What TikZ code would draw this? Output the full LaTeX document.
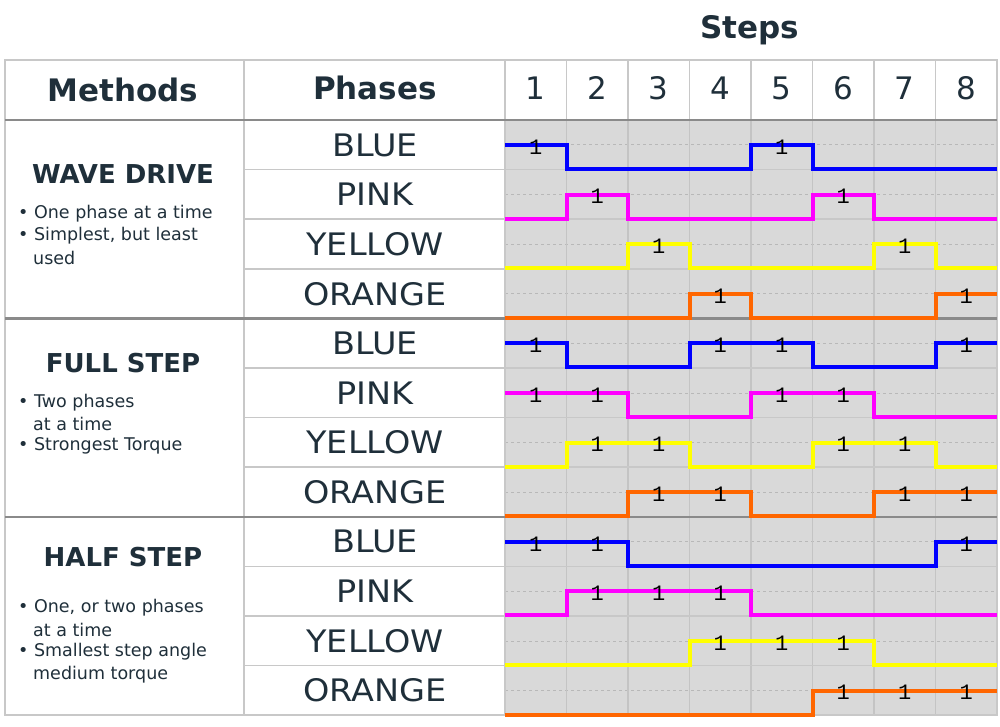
\documentclass[tikz,border=0pt]{standalone}
\usepackage{fontspec}
\setmainfont{DejaVu Sans}
\newfontfamily\markfont{Liberation Mono}
\definecolor{ink}{HTML}{1F2F3A}
\definecolor{gridbg}{HTML}{D9D9D9}
\definecolor{gridln}{HTML}{C4C4C4}
\definecolor{rule}{HTML}{C8C8C8}
\definecolor{secrule}{HTML}{8A8A8A}
\definecolor{dashln}{HTML}{B8B8B8}
\definecolor{wblue}{HTML}{0000FF}
\definecolor{wpink}{HTML}{FF00FF}
\definecolor{wyellow}{HTML}{FFFF00}
\definecolor{worange}{HTML}{FF6600}
\tikzset{
  headtxt/.style={font=\bfseries\fontsize{31}{32}\selectfont, text=ink},
  steptxt/.style={font=\fontsize{31}{32}\selectfont, text=ink},
  phasetxt/.style={font=\fontsize{31}{32}\selectfont, text=ink, xscale=1.08},
  methodtxt/.style={font=\bfseries\fontsize{26}{28}\selectfont, text=ink},
  notetxt/.style={font=\fontsize{17.5}{22}\selectfont, text=ink, anchor=west, inner sep=0pt},
  wave/.style={line width=4pt, line join=miter},
  marktxt/.style={font=\markfont\fontsize{22}{22}\selectfont, inner sep=0pt},
}
% one phase row: top, colour, first bit, bits of steps 1..8
\newcommand{\waverow}[4]{%
  \draw[wave,#2] (505,{#1+25+24*(1-#3)})
    \foreach \b [count=\i] in {#4} {
      -- ({505+61.5*(\i-1)},{#1+25+24*(1-\b)}) -- ({505+61.5*\i},{#1+25+24*(1-\b)})
    };
  \foreach \b [count=\i] in {#4} {
    \ifnum\b=1 \node[marktxt] at ({505+61.5*(\i-0.5)},{#1+27}) {1}; \fi
  }
}
\begin{document}
\begin{tikzpicture}[x=1pt,y=-1pt]
\useasboundingbox (0,0) rectangle (1000,727);

%step area
\fill[gridbg] (505,120) rectangle (997,715);
\foreach \r in {0,...,11}
  \draw[dashln,dashed,line width=1pt] (505,{120+49.6*\r+25}) -- (997,{120+49.6*\r+25});
\foreach \i in {1,...,7}
  \draw[gridln,line width=1.5pt] ({505+61.5*\i},120) -- ({505+61.5*\i},715);
\foreach \i in {1,...,7}
  \draw[rule,line width=1.5pt] ({505+61.5*\i},60) -- ({505+61.5*\i},120);

%table rules
\foreach \r in {1,2,3,5,6,7,9,10,11}
  \draw[rule,line width=1.5pt] (244,{120+49.6*\r}) -- (997,{120+49.6*\r});
\draw[rule,line width=1.5pt] (5,60) rectangle (997,715);
\draw[rule,line width=1.5pt] (244,60) -- (244,715);
\draw[rule,line width=1.5pt] (505,60) -- (505,715);
\foreach \y in {120,318.4,516.8}
  \draw[secrule,line width=2.5pt] (5,\y) -- (997,\y);

%header
\node[headtxt] (steps) at (750,30) {Steps};
\node[headtxt] (methods) at (123,90) {Methods};
\node[headtxt] (phases) at (375,88) {Phases};
\foreach \i in {1,...,8}
  \node[steptxt] (s\i) at ({505+61.5*(\i-0.5)},88) {\i};

%phase names
\foreach \n [count=\k from 0] in {BLUE,PINK,YELLOW,ORANGE,BLUE,PINK,YELLOW,ORANGE,BLUE,PINK,YELLOW,ORANGE}
  \node[phasetxt] (ph\k) at (375,{120+49.6*\k+25}) {\n};

%methods
\node[methodtxt] (wave) at (123,174) {WAVE DRIVE};
\node[notetxt] (w1) at (18,214) {• One phase at a time};
\node[notetxt] (w2) at (18,236) {• Simplest, but least};
\node[notetxt] (w3) at (33,258) {used};
\node[methodtxt] (full) at (123,363) {FULL STEP};
\node[notetxt] (f1) at (18,403) {• Two phases};
\node[notetxt] (f2) at (33,424) {at a time};
\node[notetxt] (f3) at (18,446) {• Strongest Torque};
\node[methodtxt] (half) at (123,557) {HALF STEP};
\node[notetxt] (h1) at (18,608) {• One, or two phases};
\node[notetxt] (h2) at (33,630) {at a time};
\node[notetxt] (h3) at (18,652) {• Smallest step angle};
\node[notetxt] (h4) at (33,675) {medium torque};

%waves
\waverow{120}{wblue}{1}{1,0,0,0,1,0,0,0}
\waverow{169.6}{wpink}{0}{0,1,0,0,0,1,0,0}
\waverow{219.2}{wyellow}{0}{0,0,1,0,0,0,1,0}
\waverow{268.8}{worange}{0}{0,0,0,1,0,0,0,1}
\waverow{318.4}{wblue}{1}{1,0,0,1,1,0,0,1}
\waverow{368}{wpink}{1}{1,1,0,0,1,1,0,0}
\waverow{417.6}{wyellow}{0}{0,1,1,0,0,1,1,0}
\waverow{467.2}{worange}{0}{0,0,1,1,0,0,1,1}
\waverow{516.8}{wblue}{1}{1,1,0,0,0,0,0,1}
\waverow{566.4}{wpink}{0}{0,1,1,1,0,0,0,0}
\waverow{616}{wyellow}{0}{0,0,0,1,1,1,0,0}
\waverow{665.6}{worange}{0}{0,0,0,0,0,1,1,1}
\end{tikzpicture}
\end{document}
